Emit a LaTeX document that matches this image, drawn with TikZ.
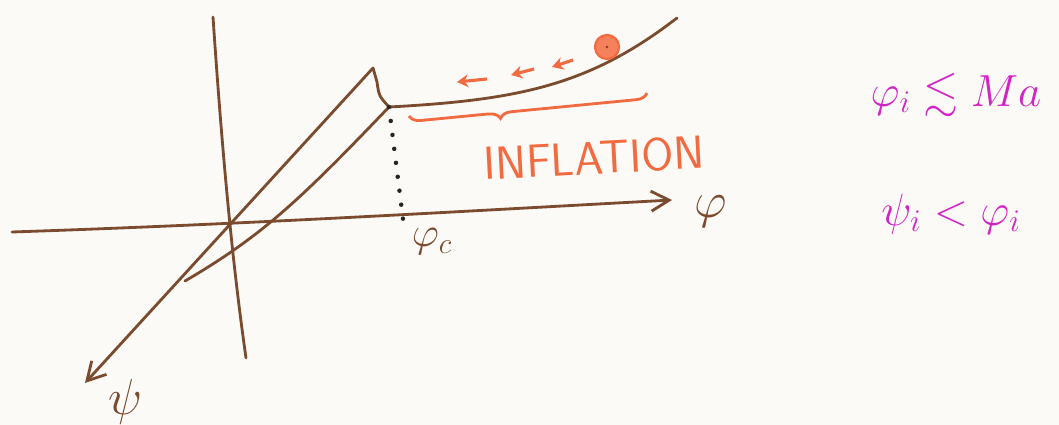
\documentclass[tikz,border=0pt]{standalone}
\usepackage{fix-cm}
\usepackage{amssymb}
\usetikzlibrary{arrows.meta, positioning, decorations.pathreplacing, calc}
\definecolor{cbrown}{HTML}{7A4B2E}
\definecolor{corange}{HTML}{F26A3F}
\definecolor{cpink}{HTML}{D224C6}
\definecolor{cpaper}{HTML}{FCFAF7}
\tikzset{
  every picture/.style={line width=2pt},
  axis/.style={draw=cbrown, line width=2pt, line cap=round},
  traj/.style={draw=cbrown, line width=2pt, line cap=round, line join=round},
  barb/.style={-{Straight Barb[length=4.5mm, width=5mm, line width=2pt]}},
  guide/.style={draw=black!85, line width=3.2pt, line cap=round, dash pattern=on 0pt off 10pt},
  roll/.style={draw=corange, line width=2.2pt, -{Stealth[length=2.8mm, width=3.2mm]}},
  axlabel/.style={text=cbrown, font=\fontsize{36}{42}\selectfont},
  stage/.style={text=corange, font=\sffamily\fontsize{33}{40}\selectfont},
  hint/.style={text=cpink, font=\fontsize{32}{38}\selectfont},
}
\begin{document}
\begin{tikzpicture}[x=0.025cm, y=-0.025cm]
  \fill[cpaper] (0,0) rectangle (1059,425);
  \useasboundingbox (0,0) rectangle (1059,425);
  % axes
  \coordinate (vTop) at (213,17);
  \coordinate (vBot) at (246,358);
  \coordinate (hStart) at (12,232);
  \coordinate (hEnd) at (672,200);
  \coordinate (cuspTop) at (373,68);
  \coordinate (corner) at (389,107);
  \coordinate (join) at (185,281);
  \coordinate (psiEnd) at (85,383);
  \coordinate (valleyEnd) at (677,18);
  \coordinate (phiFoot) at (403,219);
  \draw[axis] (vTop) .. controls (222,150) and (232,260) .. (vBot);
  \draw[axis, barb] (hStart) .. controls (250,224) and (450,212) .. (hEnd);
  \draw[axis, barb] (cuspTop) -- (psiEnd);
  \node[axlabel] (phi) at (711,212) {$\varphi$};
  \node[axlabel] (psi) at (126,402) {$\psi$};
  % trajectory
  \draw[traj] (cuspTop) -- (377,82) .. controls (379,96) .. (corner);
  \draw[traj] (corner) .. controls (300,200) and (262,236) .. (join);
  \draw[traj] (corner) .. controls (520,100) and (590,85) .. (valleyEnd);
  \draw[guide] (corner) -- (phiFoot);
  \node[axlabel, font=\fontsize{30}{36}\selectfont] (phic) at (432,242) {$\varphi_c$};
  % slow roll
  \coordinate (r1a) at (487,79); \coordinate (r1b) at (457,82);
  \coordinate (r2a) at (534,69); \coordinate (r2b) at (511,75);
  \coordinate (r3a) at (573,60); \coordinate (r3b) at (552,67);
  \draw[roll] (r1a) -- (r1b);
  \draw[roll] (r2a) -- (r2b);
  \draw[roll] (r3a) -- (r3b);
  \node[circle, draw=corange, fill=corange!85, line width=1.6pt, minimum size=0.6cm, inner sep=0pt] (ball) at (607,47) {};
  \draw[corange!55!black, line width=1.2pt] (ball.center) circle (0.1);
  % inflation stage
  \coordinate (braceL) at (409,116);
  \coordinate (braceR) at (647,93);
  \draw[corange, line width=2pt, decorate, decoration={brace, mirror, amplitude=0.28cm, aspect=0.38}] (braceL) -- (braceR);
  \node[stage, rotate=3] (infl) at (594,158) {INFLATION};
  % conditions
  \node[hint] (cond1) at (956,95) {$\varphi_i \lesssim Ma$};
  \node[hint] (cond2) at (951,214) {$\psi_i < \varphi_i$};
\end{tikzpicture}
\end{document}
